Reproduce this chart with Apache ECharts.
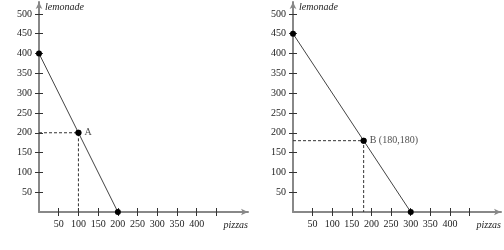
<!DOCTYPE html>
<html>
<head>
<meta charset="utf-8">
<script src="https://cdn.jsdelivr.net/npm/echarts@6/dist/echarts.min.js"></script>
<style>
html,body{margin:0;padding:0;background:#fff;}
#main{width:504px;height:250px;}
</style>
</head>
<body>
<div id="main"></div>
<script>
// Data
const xTickValues = [50, 100, 150, 200, 250, 300, 350, 400, 450];
const xLabelValues = [50, 100, 150, 200, 250, 300, 350, 400];
const yTickValues = [50, 100, 150, 200, 250, 300, 350, 400, 450, 500];
const leftLine = [[0, 400], [100, 200], [200, 0]];
const pointA = [100, 200];
const labelA = 'A';
const rightLine = [[0, 450], [180, 180], [300, 0]];
const pointB = [180, 180];
const labelB = 'B (180,180)';
const xName = 'pizzas';
const yName = 'lemonade';

const font = 'Liberation Serif';
const axisMax = 530;

function xAxes(gi) {
  return [
    {
      type: 'value', gridIndex: gi, min: 0, max: axisMax,
      name: xName, nameLocation: 'end', nameGap: 0,
      nameTextStyle: { fontFamily: font, fontStyle: 'italic', fontSize: 10, color: '#222', align: 'right', verticalAlign: 'top', padding: [8, 0, 0, 0] },
      axisLine: { show: true, symbol: ['none', 'arrow'], symbolSize: [5, 7], lineStyle: { color: '#888', width: 2 } },
      axisTick: { show: true, length: 4, customValues: xTickValues, lineStyle: { color: '#333', width: 1 } },
      axisLabel: { show: true, customValues: xLabelValues, margin: 7, fontFamily: font, fontSize: 10, color: '#222' },
      splitLine: { show: false }
    },
    {
      type: 'value', gridIndex: gi, min: 0, max: axisMax, position: 'bottom',
      axisLine: { show: false },
      axisTick: { show: true, inside: true, length: 4, customValues: xTickValues, lineStyle: { color: '#333', width: 1 } },
      axisLabel: { show: false },
      splitLine: { show: false }
    }
  ];
}
function yAxes(gi) {
  return [
    {
      type: 'value', gridIndex: gi, min: 0, max: axisMax,
      name: yName, nameLocation: 'end', nameGap: 0,
      nameTextStyle: { fontFamily: font, fontStyle: 'italic', fontSize: 10, color: '#222', align: 'left', verticalAlign: 'top', padding: [0, 0, 0, 6] },
      axisLine: { show: true, symbol: ['none', 'arrow'], symbolSize: [5, 7], lineStyle: { color: '#888', width: 2 } },
      axisTick: { show: true, length: 4, customValues: yTickValues, lineStyle: { color: '#333', width: 1 } },
      axisLabel: { show: true, customValues: yTickValues, margin: 7, fontFamily: font, fontSize: 10, color: '#222' },
      splitLine: { show: false }
    },
    {
      type: 'value', gridIndex: gi, min: 0, max: axisMax, position: 'left',
      axisLine: { show: false },
      axisTick: { show: true, inside: true, length: 4, customValues: yTickValues, lineStyle: { color: '#333', width: 1 } },
      axisLabel: { show: false },
      splitLine: { show: false }
    }
  ];
}

function guide(p) {
  return [[0, p[1]], [p[0], p[1]], [p[0], 0]];
}

function panelSeries(gi, line, pt, lbl) {
  const xi = gi * 2, yi = gi * 2;
  return [
    {
      type: 'line', xAxisIndex: xi, yAxisIndex: yi, data: guide(pt),
      symbol: 'none', silent: true,
      lineStyle: { color: '#333', width: 1, type: [3, 2] }, z: 2
    },
    {
      type: 'line', xAxisIndex: xi, yAxisIndex: yi, data: line,
      symbol: 'circle', symbolSize: 6, showAllSymbol: true,
      itemStyle: { color: '#000' },
      lineStyle: { color: '#444', width: 1 }, z: 3
    },
    {
      type: 'scatter', xAxisIndex: xi, yAxisIndex: yi, data: [pt],
      symbol: 'circle', symbolSize: 6, itemStyle: { color: '#000' },
      label: { show: true, position: 'right', distance: 3, formatter: lbl, fontFamily: font, fontSize: 10, color: '#222' }, z: 4
    }
  ];
}

const chart = echarts.init(document.getElementById('main'), null, { renderer: 'canvas' });
chart.setOption({
  animation: false,
  backgroundColor: '#fff',
  grid: [
    { left: 39, top: 2, width: 209, bottom: 38 },
    { left: 293, top: 2, width: 209, bottom: 38 }
  ],
  xAxis: [...xAxes(0), ...xAxes(1)],
  yAxis: [...yAxes(0), ...yAxes(1)],
  series: [
    ...panelSeries(0, leftLine, pointA, labelA),
    ...panelSeries(1, rightLine, pointB, labelB)
  ]
});
</script>
</body>
</html>
